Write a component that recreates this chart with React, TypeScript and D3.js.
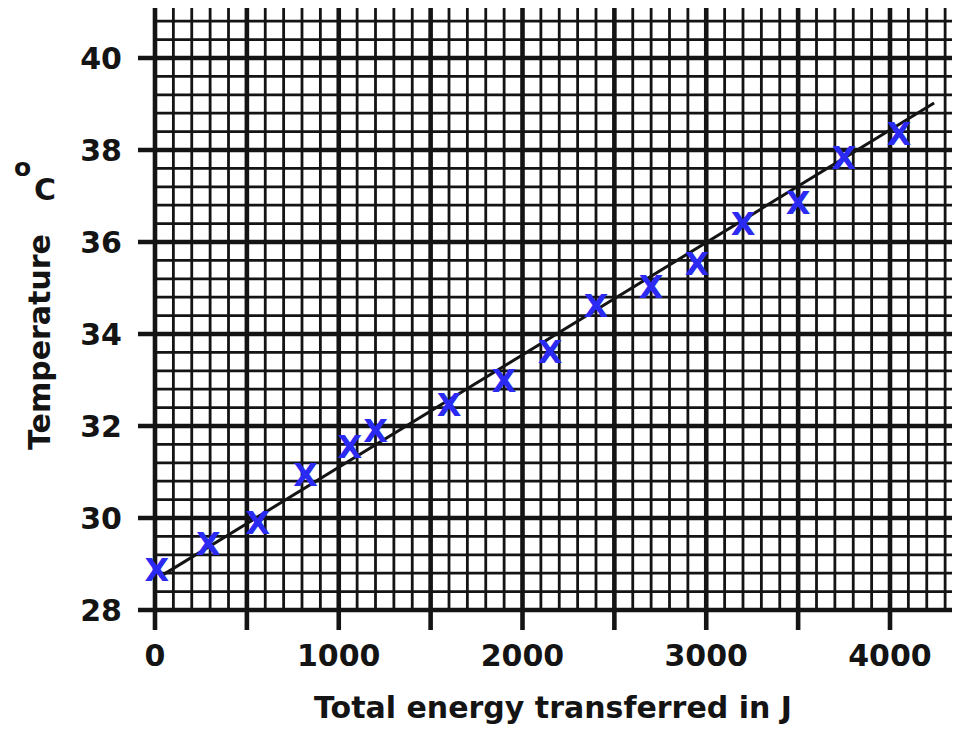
import * as d3 from 'd3';

// Energy in J, temperature in °C
const energy = [10, 290, 560, 820, 1060, 1200, 1600, 1900, 2150, 2400, 2700, 2950, 3200, 3500, 3750, 4050];
const temperature = [28.9, 29.45, 29.92, 30.96, 31.57, 31.92, 32.47, 33.0, 33.63, 34.62, 35.05, 35.55, 36.42, 36.88, 37.85, 38.38];

// Best-fit line endpoints
const fitEnergy = [25, 4240];
const fitTemperature = [28.72, 39.02];

const xTicks = [0, 1000, 2000, 3000, 4000];
const yTicks = [28, 30, 32, 34, 36, 38, 40];

const width = 959;
const height = 729;
const font = '"DejaVu Sans", Verdana, sans-serif';
const ink = '#141414';

export default function App() {
  const x = d3.scaleLinear().domain([0, 4000]).range([155, 890]);
  const y = d3.scaleLinear().domain([28, 40]).range([610, 58]);

  // grid: minor every 100 J / 0.4 °C, major every 500 J / 2 °C
  const xMinor = d3.range(0, 44).map((i) => i * 100);
  const yMinor = d3.range(0, 33).map((i) => 28 + i * 0.4);
  const top = 8;
  const right = 952;

  const line = d3
    .line<number>()
    .x((d) => x(d))
    .y((_, i) => y(fitTemperature[i]));

  return (
    <svg
      width={width}
      height={height}
      style={{ position: 'absolute', left: 0, top: 0, background: '#fff' }}
    >
      {/* minor grid */}
      <g stroke={ink} strokeWidth={2.8}>
        {xMinor
          .filter((d) => d % 500 !== 0)
          .map((d) => (
            <line key={'vx' + d} x1={x(d)} x2={x(d)} y1={top} y2={y(28)} />
          ))}
        {yMinor
          .filter((_, i) => i % 5 !== 0)
          .map((d) => (
            <line key={'hy' + d} x1={x(0)} x2={right} y1={y(d)} y2={y(d)} />
          ))}
      </g>

      {/* major grid with tick stubs */}
      <g stroke={ink} strokeWidth={4.6}>
        {xMinor
          .filter((d) => d % 500 === 0)
          .map((d) => (
            <line key={'VX' + d} x1={x(d)} x2={x(d)} y1={top} y2={y(28) + 20} />
          ))}
        {yTicks.map((d) => (
          <line key={'HY' + d} x1={x(0) - 17} x2={right} y1={y(d)} y2={y(d)} />
        ))}
      </g>

      {/* tick labels */}
      <g fontFamily={font} fontWeight="bold" fontSize={30} fill={ink}>
        {xTicks.map((d) => (
          <text key={'tx' + d} x={x(d)} y={666} textAnchor="middle">
            {d}
          </text>
        ))}
        {yTicks.map((d) => (
          <text key={'ty' + d} x={122} y={y(d) + 11} textAnchor="end">
            {d}
          </text>
        ))}
      </g>

      {/* fitted line */}
      <path d={line(fitEnergy) || ''} fill="none" stroke={ink} strokeWidth={3} />

      {/* data points drawn as X marks */}
      <g fontFamily={font} fontWeight="bold" fontSize={32} fill="#2a2af2">
        {energy.map((e, i) => (
          <text key={'p' + i} x={x(e)} y={y(temperature[i]) + 12} textAnchor="middle">
            X
          </text>
        ))}
      </g>

      {/* axis titles */}
      <text
        x={553}
        y={718}
        textAnchor="middle"
        fontFamily={font}
        fontWeight="bold"
        fontSize={30}
        fill={ink}
      >
        Total energy transferred in J
      </text>
      <text
        transform="translate(50,342) rotate(-90)"
        textAnchor="middle"
        fontFamily={font}
        fontWeight="bold"
        fontSize={30}
        fill={ink}
      >
        Temperature
      </text>
      <text x={14} y={176} fontFamily={font} fontWeight="bold" fontSize={25} fill={ink}>
        o
      </text>
      <text x={34} y={200} fontFamily={font} fontWeight="bold" fontSize={30} fill={ink}>
        C
      </text>
    </svg>
  );
}
